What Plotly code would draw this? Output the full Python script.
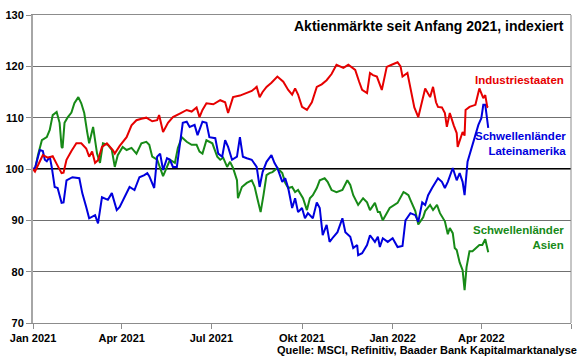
import plotly.graph_objects as go

# ---------------- data ----------------
ind_dates = ["2021-01-01","2021-01-03","2021-01-08","2021-01-11","2021-01-16","2021-01-21","2021-01-25","2021-01-30",
"2021-02-01","2021-02-04","2021-02-09","2021-02-14","2021-02-19","2021-02-24","2021-02-27","2021-03-02","2021-03-05",
"2021-03-08","2021-03-12","2021-03-17","2021-03-23","2021-03-25","2021-03-30","2021-04-06","2021-04-11","2021-04-16",
"2021-04-21","2021-04-26","2021-05-02","2021-05-07","2021-05-09","2021-05-13","2021-05-18","2021-05-23","2021-05-30",
"2021-06-06","2021-06-11","2021-06-16","2021-06-19","2021-06-22","2021-06-26","2021-07-03","2021-07-10","2021-07-15",
"2021-07-18","2021-07-23","2021-07-30","2021-08-06","2021-08-11","2021-08-16","2021-08-19","2021-08-22","2021-08-26",
"2021-08-31","2021-09-06","2021-09-12","2021-09-17","2021-09-21","2021-09-24","2021-09-27","2021-10-01","2021-10-06",
"2021-10-11","2021-10-16","2021-10-21","2021-10-26","2021-10-31","2021-11-05","2021-11-12","2021-11-17","2021-11-21",
"2021-11-24","2021-11-28","2021-12-01","2021-12-06","2021-12-09","2021-12-12","2021-12-16","2021-12-21","2021-12-26",
"2021-12-31","2022-01-06","2022-01-09","2022-01-11","2022-01-16","2022-01-19","2022-01-23","2022-01-27","2022-01-30",
"2022-02-03","2022-02-08","2022-02-11","2022-02-14","2022-02-16","2022-02-20","2022-02-23","2022-02-25","2022-02-28",
"2022-03-04","2022-03-07","2022-03-08","2022-03-11","2022-03-13","2022-03-15","2022-03-16","2022-03-20","2022-03-26",
"2022-03-30","2022-04-03","2022-04-05","2022-04-07","2022-04-08"]
ind_values = [100,99.5,101.5,102.7,102.2,102.5,101.0,99.2,
99.3,101.8,103.5,105,105,104,102.4,103.4,101.2,
101.7,104.3,105,103.7,103,104.5,106.2,108.5,109.5,
109.8,110,109.3,109.5,110.5,107.2,109,110.1,110.8,
111.5,111.2,112,110.1,111.5,112.8,112.6,113.4,113,
110.9,114,114.3,114.8,115.2,116,114,115,116,
116.8,118,117,115.4,114.5,115.7,114.5,112.1,111.5,
113,116,116.5,117.3,118.5,120.3,119.7,120.3,119.8,
119.3,117,115.4,114.8,118.7,118.3,118,115.4,119.9,
120.3,120.8,120,118,118.7,116,112,110.1,112.5,
115.7,114,116,113,112.1,112,110.9,108.2,110.9,
108.5,107,104.3,106,107.2,106.5,111.5,112.1,112.5,
115.7,113.8,114.4,112.1,112]

lat_dates = ["2021-01-01","2021-01-03","2021-01-08","2021-01-11","2021-01-13","2021-01-15","2021-01-18","2021-01-20",
"2021-01-23","2021-01-26","2021-01-30","2021-02-01","2021-02-04","2021-02-10","2021-02-17","2021-02-20","2021-02-24",
"2021-02-27","2021-03-05","2021-03-08","2021-03-12","2021-03-18","2021-03-22","2021-03-27","2021-03-30","2021-04-04",
"2021-04-09","2021-04-14","2021-04-19","2021-04-24","2021-04-27","2021-04-29","2021-05-04","2021-05-07","2021-05-10",
"2021-05-13","2021-05-17","2021-05-20","2021-05-23","2021-05-27","2021-05-30","2021-06-02","2021-06-06","2021-06-09",
"2021-06-14","2021-06-17","2021-06-22","2021-06-26","2021-06-29","2021-07-05","2021-07-08","2021-07-12","2021-07-15",
"2021-07-18","2021-07-22","2021-07-27","2021-07-30","2021-08-02","2021-08-06","2021-08-11","2021-08-16","2021-08-19",
"2021-08-22","2021-08-26","2021-08-31","2021-09-03","2021-09-06","2021-09-11","2021-09-14","2021-09-17","2021-09-21",
"2021-09-24","2021-09-27","2021-10-01","2021-10-04","2021-10-07","2021-10-12","2021-10-16","2021-10-19","2021-10-22",
"2021-10-26","2021-10-29","2021-11-02","2021-11-06","2021-11-11","2021-11-14","2021-11-19","2021-11-22","2021-11-26",
"2021-11-27","2021-12-01","2021-12-06","2021-12-09","2021-12-14","2021-12-17","2021-12-19","2021-12-22","2021-12-27",
"2022-01-01","2022-01-06","2022-01-11","2022-01-14","2022-01-19","2022-01-24","2022-01-27","2022-01-31","2022-02-03",
"2022-02-06","2022-02-10","2022-02-13","2022-02-16","2022-02-20","2022-02-23","2022-02-26","2022-03-03","2022-03-07",
"2022-03-10","2022-03-13","2022-03-15","2022-03-18","2022-03-22","2022-03-26","2022-03-29","2022-04-01","2022-04-03",
"2022-04-05","2022-04-07","2022-04-08"]
lat_values = [100,100.2,103.7,103.5,101.8,101.5,102.4,100.4,
96.5,96.3,93.4,93.5,97.8,98.4,98.2,95.3,92.6,
90.4,91,89.4,94.5,94,95.3,92,92.6,94.5,
96.5,95.9,98.4,98.8,99.2,98.6,96.3,102.4,103,
99.8,102.1,101.8,100.4,100.4,104.3,109,109.2,108.2,
108.6,106.6,109.2,109,106.2,106,103,102.4,105.6,
104.3,101.8,102.4,106.2,102.4,102.1,101.8,100.4,96.5,
99.4,101.4,102.7,101.2,100.2,97.5,98.2,96.3,92.4,
94.3,91.6,92.4,90.4,91.4,90.4,93.5,92.4,87.1,
89.1,85.8,86.8,87.7,90.4,87.7,86.8,84.6,85.2,
83.2,83.6,85.2,87.1,85.8,86.8,84.8,86.5,85.8,
86.5,84.8,85,90,91.4,91,89.7,93.5,93,
94.9,96.3,97.3,98.2,97.5,96.3,97.5,100.2,97.8,
99.2,97.5,94.9,101.4,104.1,106.6,108.6,109.9,112.5,
112.5,109.2,108]

asia_dates = ["2021-01-01","2021-01-03","2021-01-06","2021-01-10","2021-01-15","2021-01-18","2021-01-21","2021-01-25",
"2021-01-28","2021-01-30","2021-01-31","2021-02-02","2021-02-05","2021-02-09","2021-02-12","2021-02-16","2021-02-19",
"2021-02-22","2021-02-25","2021-02-27","2021-03-03","2021-03-07","2021-03-10","2021-03-13","2021-03-18","2021-03-22",
"2021-03-25","2021-03-28","2021-04-02","2021-04-06","2021-04-11","2021-04-16","2021-04-21","2021-04-26","2021-04-29",
"2021-05-02","2021-05-07","2021-05-13","2021-05-17","2021-05-20","2021-05-25","2021-05-28","2021-06-01","2021-06-06",
"2021-06-11","2021-06-16","2021-06-19","2021-06-22","2021-06-26","2021-07-02","2021-07-07","2021-07-10","2021-07-13",
"2021-07-17","2021-07-20","2021-07-23","2021-07-27","2021-07-28","2021-08-01","2021-08-06","2021-08-11","2021-08-14",
"2021-08-17","2021-08-20","2021-08-23","2021-08-26","2021-08-29","2021-09-01","2021-09-06","2021-09-11","2021-09-14",
"2021-09-17","2021-09-21","2021-09-24","2021-09-27","2021-10-02","2021-10-06","2021-10-09","2021-10-12","2021-10-16",
"2021-10-19","2021-10-24","2021-10-27","2021-10-31","2021-11-05","2021-11-11","2021-11-16","2021-11-19","2021-11-22",
"2021-11-27","2021-12-02","2021-12-06","2021-12-09","2021-12-14","2021-12-17","2021-12-19","2021-12-22","2021-12-29",
"2022-01-06","2022-01-12","2022-01-14","2022-01-17","2022-01-19","2022-01-24","2022-01-27","2022-02-01","2022-02-03",
"2022-02-08","2022-02-11","2022-02-15","2022-02-18","2022-02-23","2022-02-26","2022-02-28","2022-03-03","2022-03-05",
"2022-03-07","2022-03-10","2022-03-13","2022-03-15","2022-03-17","2022-03-20","2022-03-23","2022-03-27","2022-03-30",
"2022-04-02","2022-04-05","2022-04-08"]
asia_values = [100,99.8,102.7,105.6,106.2,107.6,110.5,111.1,
109,104.3,104.1,109,110,111,112.8,114,112.8,
110.9,107.2,105,108.2,103,101.2,105,104.7,103.7,
100.4,102.7,104.3,103.7,104.1,103,105,105.3,104.7,
102.4,101.8,98.6,100.4,101.8,101.2,104.1,106.2,105.3,
104.7,104.7,103.4,103,105.6,105,102.4,101.8,102.2,
100.4,101.4,100.2,97.8,94.3,96.5,97.3,97.8,96.5,
94,91.6,95,98.8,99.2,99.4,100.2,99.2,97.3,
96.3,96.5,95.5,95.9,94.3,92,94.3,94.9,96.3,
97.8,98.2,97.5,95.9,95.5,95.9,97.8,96.9,94.9,
93,94.3,93.5,92,93.4,91.6,91.6,90,92.4,
93.4,95.5,95.3,94.9,94,91.8,89.2,90.6,91.8,
93,92,93,91.4,89.8,87.3,88.5,87.5,84.6,
84.2,81.8,80.3,76.4,80.9,84,84,84.8,85.2,
85.2,86.3,83.8]

tick_dates = ["2021-01-01","2021-04-01","2021-07-01","2021-10-01","2022-01-01","2022-04-01","2022-07-01"]
tick_labels = ["Jan 2021","Apr 2021","Jul 2021","Okt 2021","Jan 2022","Apr 2022",""]
y_ticks = [70,80,90,100,110,120,130]

title_text = "Aktienmärkte seit Anfang 2021, indexiert"
source_text = "Quelle: MSCI, Refinitiv, Baader Bank Kapitalmarktanalyse"

RED = "#e60000"
BLUE = "#0000dd"
GREEN = "#178a17"
FONT = "Liberation Sans"

fig = go.Figure()
for d, v, c, n in [(asia_dates, asia_values, GREEN, "Schwellenländer Asien"),
                   (lat_dates, lat_values, BLUE, "Schwellenländer Lateinamerika"),
                   (ind_dates, ind_values, RED, "Industriestaaten")]:
    fig.add_trace(go.Scatter(x=d, y=v, mode="lines", name=n,
                             line=dict(color=c, width=2), showlegend=False))

fig.update_layout(
    width=580, height=359,
    margin=dict(l=33, r=9, t=15, b=36, autoexpand=False),
    paper_bgcolor="white", plot_bgcolor="white",
    font=dict(family=FONT, size=11, color="black"),
)
fig.update_xaxes(type="date", range=["2021-01-01", "2022-07-01"], automargin=False,
                 tickmode="array", tickvals=tick_dates, ticktext=tick_labels,
                 ticks="outside", ticklen=5, tickcolor="#8c8c8c",
                 showline=True, linecolor="#8c8c8c", linewidth=1, mirror=True,
                 showgrid=False, zeroline=False,
                 tickfont=dict(family=FONT, size=11, color="black", weight="bold"))
fig.update_yaxes(range=[70, 130], tickmode="array", tickvals=y_ticks, automargin=False,
                 ticks="outside", ticklen=5, tickcolor="#8c8c8c",
                 showline=True, linecolor="#a6a6a6", linewidth=2,
                 showgrid=True, gridcolor="#707070", gridwidth=1, zeroline=False,
                 tickfont=dict(family=FONT, size=11, color="black", weight="bold"))

# thick reference line at 100 and right border
fig.add_shape(type="line", xref="paper", x0=0, x1=1, yref="y", y0=100, y1=100,
              line=dict(color="black", width=2), layer="below")
fig.add_shape(type="line", xref="paper", x0=1, x1=1, yref="paper", y0=0, y1=1,
              line=dict(color="#8c8c8c", width=1))

def note(text, x, y, color, size=11.5):
    fig.add_annotation(text=f"<b>{text}</b>", xref="paper", yref="paper", x=x, y=y,
                       xanchor="right", yanchor="middle", align="right", showarrow=False,
                       font=dict(family=FONT, size=size, color=color))

note(title_text, 0.991, 0.964, "black", 14)
note("Industriestaaten", 0.991, 0.789, RED)
note("Schwellenländer<br>Lateinamerika", 0.994, 0.583, BLUE)
note("Schwellenländer<br>Asien", 0.991, 0.279, GREEN)
note(source_text, 1.0149, -0.0877, "black", 11)

fig.write_html("out.html", config={"displayModeBar": False},
               post_script="document.body.style.margin='0';")
